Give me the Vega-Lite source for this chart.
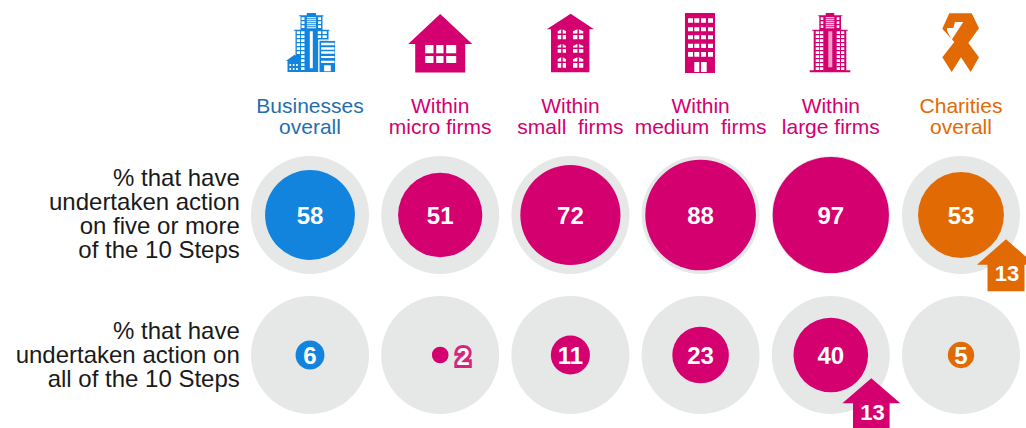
{"$schema":"https://vega.github.io/schema/vega-lite/v6.json","width":1026,"height":428,"padding":0,"autosize":{"type":"none"},"background":"white","config":{"view":{"stroke":null},"text":{"font":"Liberation Sans"}},
"datasets":{
"circles":[
{"column":"businesses","row":"first","value":58,"base":100,"hue":"business"},
{"column":"micro","row":"first","value":51,"base":100,"hue":"firm"},
{"column":"small","row":"first","value":72,"base":100,"hue":"firm"},
{"column":"medium","row":"first","value":88,"base":100,"hue":"firm"},
{"column":"large","row":"first","value":97,"base":100,"hue":"firm"},
{"column":"charities","row":"first","value":53,"base":100,"hue":"charity"},
{"column":"businesses","row":"second","value":6,"base":100,"hue":"business"},
{"column":"micro","row":"second","value":2,"base":100,"hue":"firm"},
{"column":"small","row":"second","value":11,"base":100,"hue":"firm"},
{"column":"medium","row":"second","value":23,"base":100,"hue":"firm"},
{"column":"large","row":"second","value":40,"base":100,"hue":"firm"},
{"column":"charities","row":"second","value":5,"base":100,"hue":"charity"}],
"parts":[
{"column":"businesses","row":"header","part":"businessBody","hue":"business"},
{"column":"businesses","row":"header","part":"businessWindows","hue":"white"},
{"column":"micro","row":"header","part":"houseBody","hue":"firm"},
{"column":"micro","row":"header","part":"houseWindows","hue":"white"},
{"column":"small","row":"header","part":"smallBody","hue":"firm"},
{"column":"small","row":"header","part":"smallWindows","hue":"white"},
{"column":"medium","row":"header","part":"mediumBody","hue":"firm"},
{"column":"medium","row":"header","part":"mediumWindows","hue":"white"},
{"column":"large","row":"header","part":"largeBody","hue":"firm"},
{"column":"large","row":"header","part":"largeStripe","hue":"tint"},
{"column":"large","row":"header","part":"largeWindows","hue":"white"},
{"column":"charities","row":"header","part":"ribbonBody","hue":"charity"},
{"column":"charities","row":"header","part":"ribbonFold","hue":"white"},
{"column":"charities","row":"first","part":"arrowCharities","hue":"charity"},
{"column":"large","row":"second","part":"arrowLarge","hue":"firm"}],
"titles":[
{"column":"businesses","row":"header","text":"Businesses\noverall","hue":"businessText"},
{"column":"micro","row":"header","text":"Within\nmicro firms","hue":"firm"},
{"column":"small","row":"header","text":"Within\nsmall \u00a0firms","hue":"firm"},
{"column":"medium","row":"header","text":"Within\nmedium \u00a0firms","hue":"firm"},
{"column":"large","row":"header","text":"Within\nlarge firms","hue":"firm"},
{"column":"charities","row":"header","text":"Charities\noverall","hue":"charity"}],
"rowLabels":[
{"column":"label","row":"first","text":"% that have\nundertaken action\non five or more\nof the 10 Steps"},
{"column":"label","row":"second","text":"% that have\nundertaken action on\nall of the 10 Steps"}],
"changes":[
{"column":"charities","row":"first","change":13},
{"column":"large","row":"second","change":13}]
},
"encoding":{
"x":{"field":"column","type":"nominal","axis":null,"scale":{"type":"point","padding":0,"domain":["label","businesses","micro","small","medium","large","charities"],"range":[179.8,961]}},
"y":{"field":"row","type":"nominal","axis":null,"scale":{"type":"point","padding":0,"domain":["header","first","second"],"range":[75,355]}}
},
"layer":[
{"data":{"name":"circles"},"mark":{"type":"circle","opacity":1,"color":"#E6E8E8"},"encoding":{"size":{"field":"base","type":"quantitative","legend":null,"scale":{"domain":[0,100],"range":[0,13924]}}}},
{"data":{"name":"circles"},"mark":{"type":"circle","opacity":1},"encoding":{"size":{"field":"value","type":"quantitative","legend":null,"scale":{"domain":[0,100],"range":[0,13924]}},"color":{"field":"hue","type":"nominal","legend":null,"scale":{"domain":["business","firm","charity","white","tint","businessText"],"range":["#1284DE","#D40070","#E26A05","#FFFFFF","#F29CC8","#1F6FB0"]}}}},
{"data":{"name":"parts"},"mark":{"type":"point","filled":true,"opacity":1,"size":4,"strokeWidth":0},"encoding":{"shape":{"field":"part","type":"nominal","legend":null,"scale":{"domain":["businessBody","businessWindows","houseBody","houseWindows","smallBody","smallWindows","mediumBody","mediumWindows","largeBody","largeStripe","largeWindows","ribbonBody","ribbonFold","arrowCharities","arrowLarge"],"range":[
"M-3.2,-62H6.1V-59.7H13.5V-58.7H12.5V-45.3H19.5V-44.3H18.5V-3H-14.5V-44.3H-15.9V-45.3H-9.5V-58.7H-10.9V-59.7H-3.2Z M9.5,-34.3H25.1V-3H9.5Z M-15.5,-20.3L-9.2,-14V-3H-22.5V-14H-24.2Z",
"M-8.5,-57.7h3v2.7h-3z M-8.5,-53.7h3v2.7h-3z M-8.5,-49.7h3v2.7h-3z M8.1,-57.7h3v2.7h-3z M8.1,-53.7h3v2.7h-3z M8.1,-49.7h3v2.7h-3z M-3.2,-57.7h9.3v1h-9.3z M-3.2,-55.7h9.3v1h-9.3z M-3.2,-53.7h9.3v1h-9.3z M-3.2,-51.7h9.3v1h-9.3z M-3.2,-49.7h9.3v1h-9.3z M-3.2,-47.7h9.3v1h-9.3z M-13.2,-43.7h3.3v2.7h-3.3z M-13.2,-39.7h3.3v2.7h-3.3z M-13.2,-35.7h3.3v2.7h-3.3z M-13.2,-31.7h3.3v2.7h-3.3z M-13.2,-27.7h3.3v2.7h-3.3z M-13.2,-23.7h3.3v2.7h-3.3z M-8.9,-43.7h3.4v2.7h-3.4z M-8.9,-39.7h3.4v2.7h-3.4z M-8.9,-35.7h3.4v2.7h-3.4z M-8.9,-31.7h3.4v2.7h-3.4z M-8.9,-27.7h3.4v2.7h-3.4z M-8.9,-23.7h3.4v2.7h-3.4z M-8.9,-19.7h3.4v2.7h-3.4z M-8.9,-15.7h3.4v2.7h-3.4z M-8.9,-11.7h3.4v2.7h-3.4z M-8.9,-7.7h3.4v2.7h-3.4z M7.8,-43.7h3.3v2.7h-3.3z M7.8,-39.7h3.3v2.7h-3.3z M12.5,-43.7h4.3v2.7h-4.3z M12.5,-39.7h4.3v2.7h-4.3z M-0.2,-43.7h3v37h-3z M8.2,-35.6H25.1V-34.3H9.5V-3H8.2Z M11.1,-32.3h13.4v2.6h-13.4z M11.1,-27.7h13.4v2.4h-13.4z M11.1,-23.7h13.4v2.4h-13.4z M11.1,-19h13.4v2h-13.4z M11.1,-14.3h13.4v2.3h-13.4z M14.1,-9.7h6.7v6h-6.7z M-20.5,-11h1.6v2h-1.6z M-17.2,-11h1.7v2h-1.7z M-13.9,-11h1.7v2h-1.7z M-20.5,-7h1.6v2h-1.6z M-17.2,-7h1.7v2h-1.7z M-13.9,-7h1.7v2h-1.7z",
"M0,-61L32,-31H25V-2.5H-25V-31H-32Z",
"M-15,-30h8.3v8.3h-8.3z M-4,-30h7.3v8.3h-7.3z M6,-30h10v8.3h-10z M-15,-19h8.3v7h-8.3z M-4,-19h7.3v7h-7.3z M6,-19h10v7h-10z",
"M0.3,-61.3L23.6,-45.7H19V-2.7H-19.4V-45.7H-23.7Z",
"M-12.7,-43.7V-41.5H-9.2V-45.7Z M-7.7,-45.7V-41.5H-4.4V-43.7Z M-12.7,-40V-35.7H-9.2V-40Z M-7.7,-40V-35.7H-4.4V-40Z M2.6,-43.7V-41.5H7V-45.7Z M8.5,-45.7V-41.5H12.9V-43.7Z M2.6,-40V-35.7H7V-40Z M8.5,-40V-35.7H12.9V-40Z M-12.7,-29V-27.5H-9.2V-31Z M-7.7,-31V-27.5H-4.4V-29Z M-12.7,-26V-22.3H-9.2V-26Z M-7.7,-26V-22.3H-4.4V-26Z M2.6,-29V-27.5H7V-31Z M8.5,-31V-27.5H12.9V-29Z M2.6,-26V-22.3H7V-26Z M8.5,-26V-22.3H12.9V-26Z M-12.7,-15.7V-13.5H-9.2V-17.7Z M-7.7,-17.7V-13.5H-4.4V-15.7Z M-12.7,-12V-7.3H-9.2V-12Z M-7.7,-12V-7.3H-4.4V-12Z M2.6,-15.7V-13.5H7V-17.7Z M8.5,-17.7V-13.5H12.9V-15.7Z M2.6,-12V-7.3H7V-12Z M8.5,-12V-7.3H12.9V-12Z",
"M-15.6,-62H14.4V-2H-15.6Z",
"M-12.6,-56.7h5v4.4h-5z M-6.3,-56.7h5v4.4h-5z M0.4,-56.7h5v4.4h-5z M7.4,-56.7h5v4.4h-5z M-12.6,-47.7h5v4h-5z M-6.3,-47.7h5v4h-5z M0.4,-47.7h5v4h-5z M7.4,-47.7h5v4h-5z M-12.6,-39.7h5v4h-5z M-6.3,-39.7h5v4h-5z M0.4,-39.7h5v4h-5z M7.4,-39.7h5v4h-5z M-12.6,-31.3h5v4.3h-5z M-6.3,-31.3h5v4.3h-5z M0.4,-31.3h5v4.3h-5z M7.4,-31.3h5v4.3h-5z M-12.6,-23h5v4.7h-5z M-6.3,-23h5v4.7h-5z M0.4,-23h5v4.7h-5z M7.4,-23h5v4.7h-5z M-6.3,-13h5v10h-5z M0.4,-13h5.7v10h-5.7z",
"M-5.1,-62H3.5V-59.7H11.5V-58.7H10.2V-45.3H16.9V-44.3H15.5V-4.7H19.5V-2.7H-21.1V-4.7H-17.1V-44.3H-18.5V-45.3H-11.5V-58.7H-12.5V-59.7H-5.1Z",
"M-2.5,-43.7h4v36h-4z",
"M-10.1,-57.7h2.6v2.7h-2.6z M-10.1,-53.7h2.6v2.7h-2.6z M-10.1,-49.7h2.6v2.7h-2.6z M5.9,-57.7h2.6v2.7h-2.6z M5.9,-53.7h2.6v2.7h-2.6z M5.9,-49.7h2.6v2.7h-2.6z M-5.1,-57.7h8.6v1h-8.6z M-5.1,-55.7h8.6v1h-8.6z M-5.1,-53.7h8.6v1h-8.6z M-5.1,-51.7h8.6v1h-8.6z M-5.1,-49.7h8.6v1h-8.6z M-5.1,-47.7h8.6v1h-8.6z M-15.1,-43.7h3.6v2.7h-3.6z M-15.1,-39.7h3.6v2.7h-3.6z M-15.1,-35.7h3.6v2.7h-3.6z M-15.1,-31.7h3.6v2.7h-3.6z M-15.1,-27.7h3.6v2.7h-3.6z M-15.1,-23.7h3.6v2.7h-3.6z M-15.1,-19.7h3.6v2.7h-3.6z M-15.1,-15.7h3.6v2.7h-3.6z M-15.1,-11.7h3.6v2.7h-3.6z M-15.1,-7.7h3.6v2.7h-3.6z M-10.8,-43.7h3.3v2.7h-3.3z M-10.8,-39.7h3.3v2.7h-3.3z M-10.8,-35.7h3.3v2.7h-3.3z M-10.8,-31.7h3.3v2.7h-3.3z M-10.8,-27.7h3.3v2.7h-3.3z M-10.8,-23.7h3.3v2.7h-3.3z M-10.8,-19.7h3.3v2.7h-3.3z M-10.8,-15.7h3.3v2.7h-3.3z M-10.8,-11.7h3.3v2.7h-3.3z M-10.8,-7.7h3.3v2.7h-3.3z M5.9,-43.7h3.3v2.7h-3.3z M5.9,-39.7h3.3v2.7h-3.3z M5.9,-35.7h3.3v2.7h-3.3z M5.9,-31.7h3.3v2.7h-3.3z M5.9,-27.7h3.3v2.7h-3.3z M5.9,-23.7h3.3v2.7h-3.3z M5.9,-19.7h3.3v2.7h-3.3z M5.9,-15.7h3.3v2.7h-3.3z M5.9,-11.7h3.3v2.7h-3.3z M5.9,-7.7h3.3v2.7h-3.3z M10.2,-43.7h3.3v2.7h-3.3z M10.2,-39.7h3.3v2.7h-3.3z M10.2,-35.7h3.3v2.7h-3.3z M10.2,-31.7h3.3v2.7h-3.3z M10.2,-27.7h3.3v2.7h-3.3z M10.2,-23.7h3.3v2.7h-3.3z M10.2,-19.7h3.3v2.7h-3.3z M10.2,-15.7h3.3v2.7h-3.3z M10.2,-11.7h3.3v2.7h-3.3z M10.2,-7.7h3.3v2.7h-3.3z",
"M-11.7,-61.7L10.7,-61.7L18,-46.7L7.3,-32L18,-17.7L9.7,-3L0,-17.7L-9.3,-3L-18.7,-17.7L-6.7,-33L-18.7,-46.3Z",
"M-14,-47L-7.7,-47L-6,-53L2.3,-53L-9.3,-35.3L-14,-44.3Z",
"M45,24.3L74,49.7H63.5V76.3H26.5V49.7H16Z",
"M40.5,23.3L69.5,48.3H58.8V73H22.2V48.3H11.5Z"
]}},
"color":{"field":"hue","type":"nominal","legend":null,"scale":{"domain":["business","firm","charity","white","tint","businessText"],"range":["#1284DE","#D40070","#E26A05","#FFFFFF","#F29CC8","#1F6FB0"]}}}},
{"data":{"name":"titles"},"mark":{"type":"text","font":"Liberation Sans","fontSize":21,"lineBreak":"\n","lineHeight":21,"align":"center","baseline":"middle","dy":32},"encoding":{"text":{"field":"text"},"color":{"field":"hue","type":"nominal","legend":null,"scale":{"domain":["business","firm","charity","white","tint","businessText"],"range":["#1284DE","#D40070","#E26A05","#FFFFFF","#F29CC8","#1F6FB0"]}}}},
{"data":{"name":"rowLabels"},"transform":[{"filter":"datum.row == 'first'"}],"mark":{"type":"text","font":"Liberation Sans","fontSize":24,"lineBreak":"\n","lineHeight":24,"align":"right","baseline":"middle","dx":60,"dy":-36,"color":"#1A1A1A"},"encoding":{"text":{"field":"text"}}},
{"data":{"name":"rowLabels"},"transform":[{"filter":"datum.row == 'second'"}],"mark":{"type":"text","font":"Liberation Sans","fontSize":24,"lineBreak":"\n","lineHeight":24,"align":"right","baseline":"middle","dx":60,"dy":-23,"color":"#1A1A1A"},"encoding":{"text":{"field":"text"}}},
{"data":{"name":"circles"},"transform":[{"filter":"datum.value != 2"}],"mark":{"type":"text","font":"Liberation Sans","fontSize":24,"fontWeight":"bold","align":"center","baseline":"middle","color":"white","dy":2},"encoding":{"text":{"field":"value","type":"quantitative"}}},
{"data":{"name":"circles"},"transform":[{"filter":"datum.value == 2"}],"mark":{"type":"text","font":"Liberation Sans","fontSize":24,"fontWeight":"bold","align":"center","baseline":"middle","color":"#D40070","stroke":"#D40070","strokeWidth":6,"strokeOpacity":0.85,"dx":23,"dy":3},"encoding":{"text":{"field":"value","type":"quantitative"}}},
{"data":{"name":"circles"},"transform":[{"filter":"datum.value == 2"}],"mark":{"type":"text","font":"Liberation Sans","fontSize":24,"fontWeight":"bold","align":"center","baseline":"middle","color":"white","dx":23,"dy":3},"encoding":{"text":{"field":"value","type":"quantitative"}}},
{"data":{"name":"changes"},"transform":[{"filter":"datum.column == 'charities'"}],"mark":{"type":"text","font":"Liberation Sans","fontSize":22,"fontWeight":"bold","align":"center","baseline":"middle","color":"white","dx":46,"dy":59},"encoding":{"text":{"field":"change","type":"quantitative"}}},
{"data":{"name":"changes"},"transform":[{"filter":"datum.column == 'large'"}],"mark":{"type":"text","font":"Liberation Sans","fontSize":22,"fontWeight":"bold","align":"center","baseline":"middle","color":"white","dx":41.7,"dy":58},"encoding":{"text":{"field":"change","type":"quantitative"}}}
]}
